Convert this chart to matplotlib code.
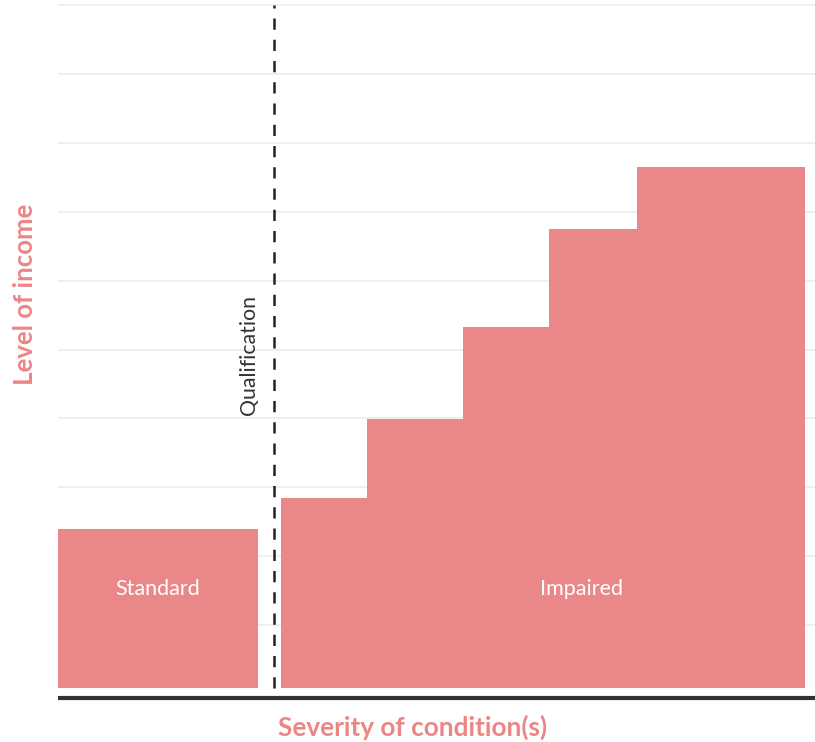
import numpy as np
import matplotlib.pyplot as plt

# Bar geometry along the severity axis (x) and income levels (y)
standard_edges = [0, 200]
standard_level = 2.395
impaired_edges = [223, 309, 405, 491, 579, 747]
impaired_levels = [2.845, 3.99, 5.33, 6.75, 7.65]
qualification_x = 216

bar_color = '#EA8789'
label_color = '#EE8585'
bottom = 0.087

fig = plt.figure(figsize=(8.15, 7.42), dpi=100)
ax = fig.add_axes([58 / 815, 41 / 742, 757 / 815, 699.5 / 742])
ax.set_xlim(0, 757)
ax.set_ylim(-0.1, 10.05)

# light horizontal grid
for g in np.arange(1, 11):
    ax.axhline(g, color='#EBEBEB', lw=1.1, zorder=0)

# standard block
ax.bar(standard_edges[0], standard_level - bottom, width=standard_edges[1] - standard_edges[0],
       bottom=bottom, align='edge', color=bar_color, lw=0, zorder=2)
ax.text(np.mean(standard_edges), 1.53, 'Standard', color='white', ha='center', va='center',
        fontsize=15.5, family='Lato', zorder=3)

# impaired steps as one shape
ax.fill_between(impaired_edges, bottom, impaired_levels + [impaired_levels[-1]], step='post',
                color=bar_color, lw=0, zorder=2)
ax.text(523, 1.53, 'Impaired', color='white',
        ha='center', va='center', fontsize=15.5, family='Lato', zorder=3)

# qualification threshold
ax.plot([qualification_x, qualification_x], [0.09, 10.0], color='#222222', lw=1.8,
        dashes=(4.5, 4), zorder=3)
ax.text(qualification_x - 25, 4.92, 'Qualification', rotation=90, ha='center', va='center',
        color='#333333', fontsize=15.3, family='Lato')

# base line
ax.axhline(-0.058, xmin=1 / 757, xmax=1, color='#333333', lw=3, zorder=4)

for s in ax.spines.values():
    s.set_visible(False)
ax.set_xticks([])
ax.set_yticks([])

fig.text(413 / 815, 1 - 727 / 742, 'Severity of condition(s)', color=label_color,
         fontsize=18.8, fontweight='bold', ha='center', va='center', family='Lato')
fig.text(25 / 815, 1 - 294 / 742, 'Level of income', color=label_color, rotation=90,
         fontsize=18.5, fontweight='bold', ha='center', va='center', family='Lato')

fig.savefig('out.png', dpi=100)
